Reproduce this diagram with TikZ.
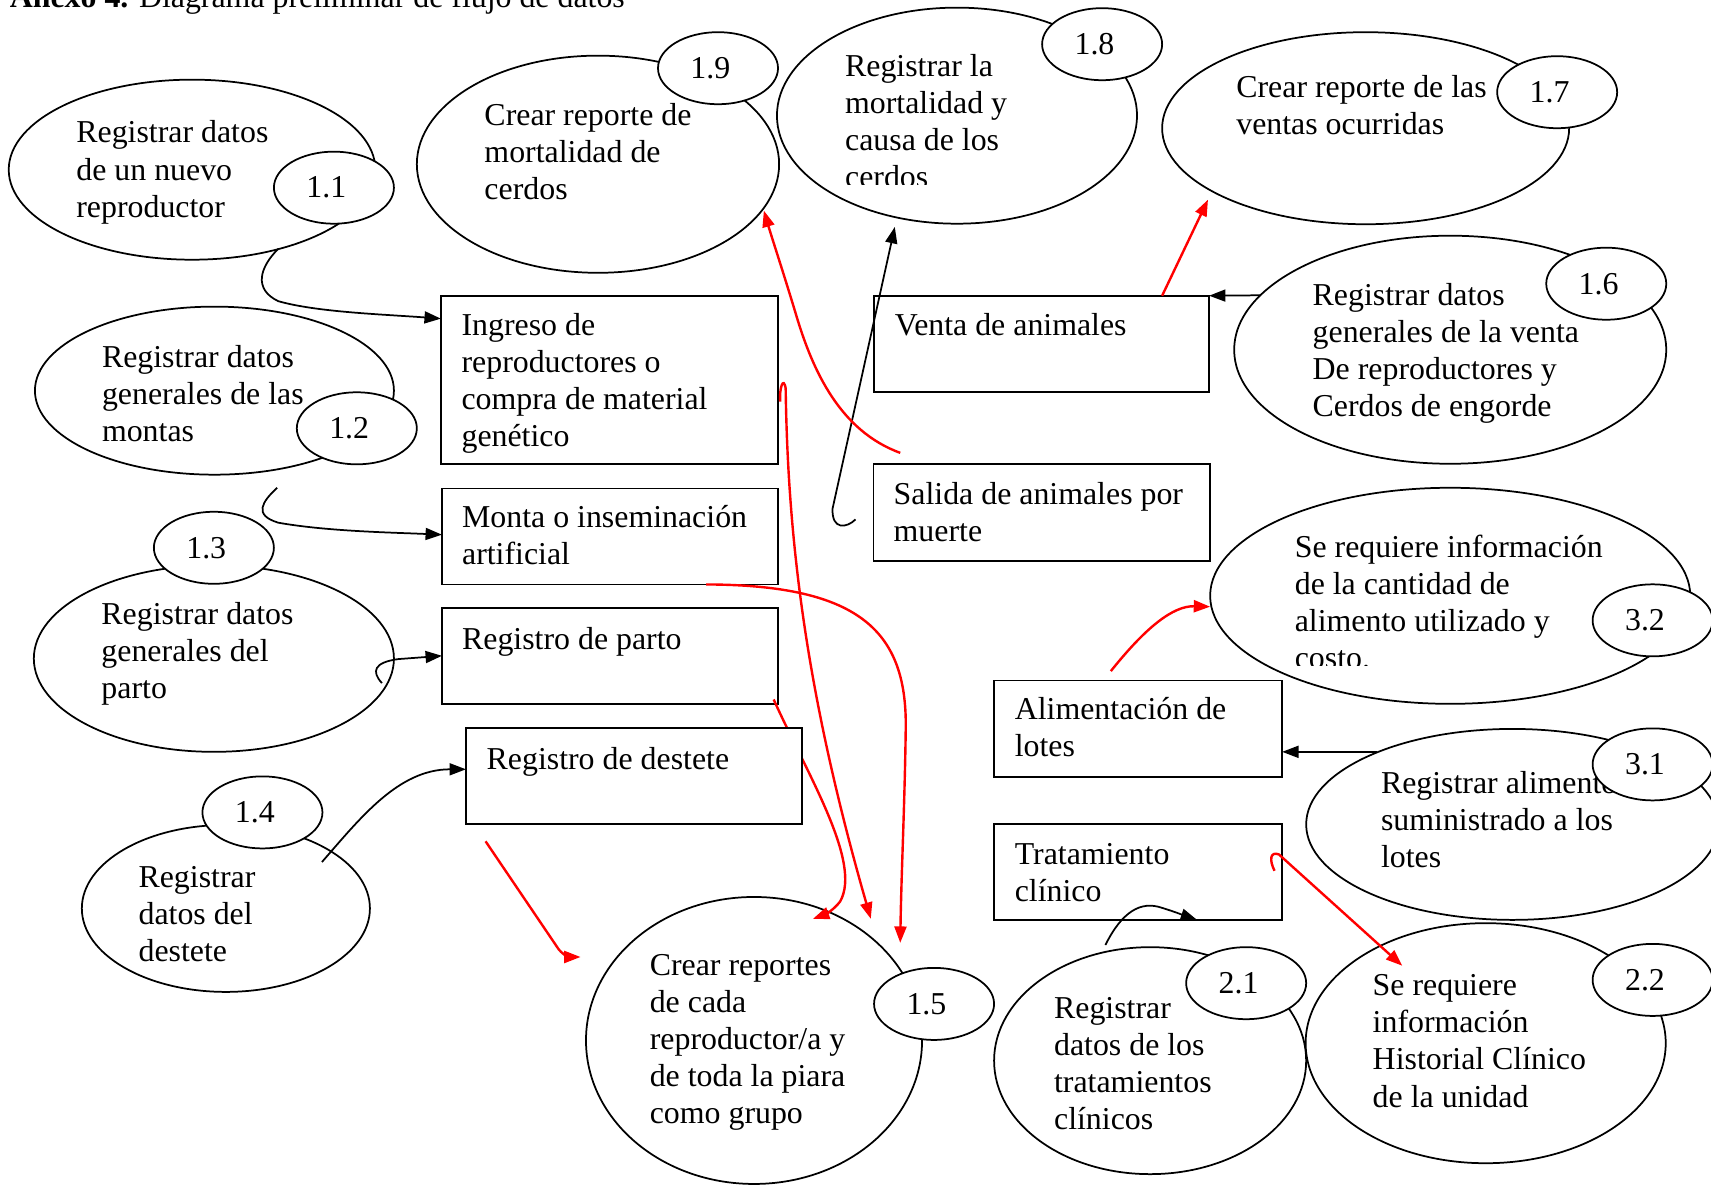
\documentclass[tikz,border=0pt]{standalone}
\usepackage{fontspec}
\setmainfont{Liberation Serif}
\usetikzlibrary{arrows.meta,shapes.geometric}
\newcommand\dfont{\fontsize{14.6}{17}\selectfont}
\newcommand\lns[1]{\begin{tabular}[t]{@{}l@{}}#1\end{tabular}}
\newcommand\nlab[1]{\kern-7pt #1}
\tikzset{
  ell/.style={draw, ellipse, line width=0.8pt, inner sep=0pt, outer sep=0pt},
  num/.style={draw, ellipse, fill=white, line width=0.8pt, inner sep=0pt, outer sep=0pt, minimum width=55pt, minimum height=33pt},
  boxn/.style={draw, rectangle, fill=white, line width=0.8pt, inner sep=0pt, outer sep=0pt},
  txt/.style={anchor=base west, inner sep=0pt, outer sep=0pt},
  blk/.style={line width=0.8pt, -{Triangle[length=7.5pt,width=5.5pt]}},
  redl/.style={red, line width=1.1pt, -{Triangle[length=7.5pt,width=5.5pt]}},
  every node/.style={font=\dfont}
}
\begin{document}
\begin{tikzpicture}[x=0.5pt,y=-0.5pt]
\useasboundingbox (0,0) rectangle (1568,1086);
\fill[white] (0,0) rectangle (1568,1086);

% title (cut by the page edge, as in the reference)
\node[txt] (title) at (9,7) {\textbf{Anexo 4.} Diagrama preliminar de flujo de datos};

% big ellipses
\node[ell, minimum width=168pt, minimum height=82.5pt] (e11) at (176,155.5) {};
\node[ell, minimum width=166pt, minimum height=99.5pt] (e19) at (548,150.5) {};
\node[ell, minimum width=165pt, minimum height=99pt] (e18) at (877,106) {};
\node[ell, minimum width=186.5pt, minimum height=88pt] (e17) at (1251.5,117.5) {};
\node[ell, minimum width=198pt, minimum height=104.5pt] (e16) at (1329,320.5) {};
\node[ell, minimum width=164.5pt, minimum height=77pt] (e12) at (196.5,358) {};
\node[ell, minimum width=165pt, minimum height=85.5pt] (e13) at (196,603.5) {};
\node[ell, minimum width=132pt, minimum height=76.5pt] (e14) at (207,832.5) {};
\node[ell, minimum width=154pt, minimum height=131.5pt] (e15) at (691,953.5) {};
\node[ell, minimum width=220pt, minimum height=99pt] (e32) at (1329,546) {};
\node[ell, minimum width=189pt, minimum height=87.5pt] (e31) at (1386,755.5) {};
\node[ell, minimum width=143pt, minimum height=104pt] (e21) at (1054,972) {};
\node[ell, minimum width=165pt, minimum height=110pt] (e22) at (1361.5,956) {};

% boxes
\node[boxn, minimum width=154.5pt, minimum height=77pt] (ingreso) at (558.5,348) {};
\node[boxn, minimum width=154pt, minimum height=44pt] (monta) at (559,491.6) {};
\node[boxn, minimum width=154pt, minimum height=44pt] (parto) at (559,601) {};
\node[boxn, minimum width=153.5pt, minimum height=44.25pt] (venta) at (954.5,315.25) {};
\node[boxn, minimum width=154pt, minimum height=44.5pt] (salida) at (954.6,469.5) {};
\node[boxn, minimum width=132pt, minimum height=44.15pt] (alim) at (1043,667.85) {};
\node[boxn, minimum width=132pt, minimum height=44pt] (trat) at (1043,799) {};

% red line that passes behind the weaning box
\coordinate (rp1) at (709,641);
\coordinate (rp2) at (745,842);
\draw[redl] (rp1) .. controls (740,710) and (790,790) .. (770,826)
  .. controls (764,834) and (756,838) .. (rp2);
\node[boxn, minimum width=154pt, minimum height=44pt] (destete) at (581,711) {};

% black connectors
\coordinate (b11) at (255,228);
\draw[blk] (b11) .. controls (238,245) and (232,265) .. (255,276)
  .. controls (290,286) and (350,288) .. (ingreso.west |- 0,292);
\coordinate (b12) at (254,447);
\draw[blk] (b12) .. controls (240,460) and (232,472) .. (255,479)
  .. controls (300,487) and (360,488) .. (monta.west |- 0,490);
\coordinate (b13) at (350,626);
\draw[blk] (b13) .. controls (340,615) and (343,607) .. (365,604) -- (parto.west);
\coordinate (b14) at (295,790);
\draw[blk] (b14) .. controls (330,750) and (365,705) .. (destete.west |- 0,705);
\draw[blk] (e16.164) -- (venta.north east);
\coordinate (b31) at (1262,689);
\draw[blk] (b31) -- (alim.east |- 0,689);
\coordinate (b21) at (1013,866);
\draw[blk] (b21) .. controls (1028,836) and (1045,825) .. (1065,832)
  .. controls (1078,836) and (1088,840) .. (trat.south -| 1097,0);
\coordinate (b18s) at (784,476);
\coordinate (b18e) at (820,208);
\draw[blk] (b18s) .. controls (776,484) and (762,486) .. (763,466) -- (b18e);

% red connectors
\coordinate (rv) at (1107,183);
\draw[redl] (venta.north -| 1065,0) -- (rv);
\coordinate (rs1) at (825,415);
\coordinate (rs2) at (700,193);
\draw[redl] (rs1) .. controls (770,395) and (745,340) .. (730,290)
  .. controls (718,250) and (708,220) .. (rs2);
\coordinate (ri1) at (715,368);
\coordinate (ri2) at (798,842);
\draw[redl] (ri1) .. controls (714,356) and (718,344) .. (720,356)
  .. controls (722,500) and (740,640) .. (ri2);
\coordinate (rm2) at (825,864);
\draw[redl] (monta.south -| 647,0) .. controls (790,536) and (832,580) .. (830,670)
  .. controls (829,740) and (826,800) .. (rm2);
\coordinate (rd1) at (445,771);
\coordinate (rd2) at (532,877);
\draw[redl] (rd1) -- (512,870) .. controls (517,876) and (522,877) .. (rd2);
\coordinate (ra1) at (1018,615);
\coordinate (ra2) at (1109,556);
\draw[redl] (ra1) .. controls (1050,575) and (1075,555) .. (ra2);
\coordinate (rt1) at (1168,798);
\coordinate (rt2) at (1285,885);
\draw[redl] (rt1) .. controls (1163,788) and (1164,780) .. (1172,783) -- (rt2);

% texts in ellipses
\node[txt] (t11) at (70,131) {\lns{Registrar datos\\de un nuevo\\reproductor}};
\node[txt] (t19) at (444,115) {\lns{Crear reporte de\\mortalidad de\\cerdos}};
\begin{scope}
\clip (700,0) rectangle (1100,169.5);
\node[txt] (t18) at (774.5,70) {\lns{Registrar la\\mortalidad y\\causa de los\\cerdos}};
\end{scope}
\node[txt] (t17) at (1133,89) {\lns{Crear reporte de las\\ventas ocurridas}};
\node[txt] (t16) at (1203,280) {\lns{Registrar datos\\generales de la venta\\De reproductores y\\Cerdos de engorde}};
\node[txt] (t12) at (93.5,337) {\lns{Registrar datos\\generales de las\\montas}};
\node[txt] (t13) at (93,572) {\lns{Registrar datos\\generales del\\parto}};
\node[txt] (t14) at (127,813) {\lns{Registrar\\datos del\\destete}};
\node[txt] (t15) at (595.5,894) {\lns{Crear reportes\\de cada\\reproductor/a y\\de toda la piara\\como grupo}};
\begin{scope}
\clip (1100,400) rectangle (1500,609.5);
\node[txt] (t32) at (1186.6,511) {\lns{Se requiere información\\de la cantidad de\\alimento utilizado y\\costo.}};
\end{scope}
\node[txt] (t31) at (1265.6,727) {\lns{Registrar alimento\\suministrado a los\\lotes}};
\node[txt] (t21) at (966,933) {\lns{Registrar\\datos de los\\tratamientos\\clínicos}};
\node[txt] (t22) at (1258,912.5) {\lns{Se requiere\\información\\Historial Clínico\\de la unidad}};

% texts in boxes
\node[txt] (ting) at (423,307) {\lns{Ingreso de\\reproductores o\\compra de material\\genético}};
\node[txt] (tmon) at (423.5,483) {\lns{Monta o inseminación\\artificial}};
\node[txt] (tpar) at (423.5,595) {Registro de parto};
\node[txt] (tdes) at (446,705) {Registro de destete};
\node[txt] (tven) at (820,307) {Venta de animales};
\node[txt] (tsal) at (819,462) {\lns{Salida de animales por\\muerte}};
\node[txt] (tali) at (930,659.5) {\lns{Alimentación de\\lotes}};
\node[txt] (ttra) at (930,792) {\lns{Tratamiento\\clínico}};

% number circles
\node[num] (n11) at (306,172) {\nlab{1.1}};
\node[num] (n19) at (658,62.5) {\nlab{1.9}};
\node[num] (n18) at (1010,40.5) {\nlab{1.8}};
\node[num] (n17) at (1427,84.5) {\nlab{1.7}};
\node[num] (n16) at (1472,260) {\nlab{1.6}};
\node[num] (n12) at (327,392.5) {\nlab{1.2}};
\node[num] (n13) at (196,502) {\nlab{1.3}};
\node[num] (n14) at (240.5,744.5) {\nlab{1.4}};
\node[num] (n15) at (856,920) {\nlab{1.5}};
\node[num] (n32) at (1514.5,568.5) {\nlab{3.2}};
\node[num] (n31) at (1514.5,700.5) {\nlab{3.1}};
\node[num] (n21) at (1142,901) {\nlab{2.1}};
\node[num] (n22) at (1514.5,898) {\nlab{2.2}};
\end{tikzpicture}
\end{document}
